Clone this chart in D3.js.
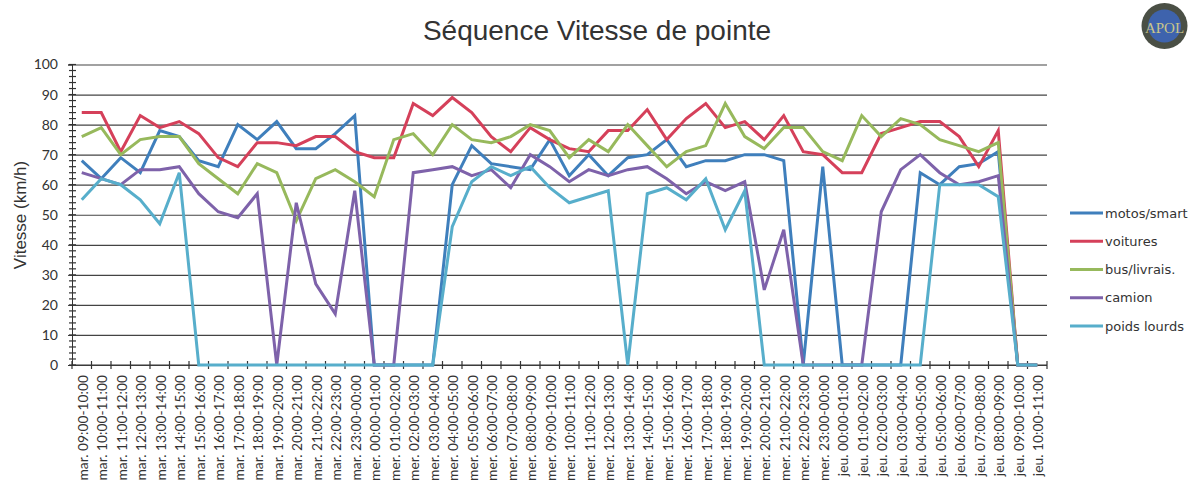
<!DOCTYPE html>
<html>
<head>
<meta charset="utf-8">
<script src="https://cdn.jsdelivr.net/npm/d3@7"></script>
<style>
  html, body { margin: 0; padding: 0; background: #fff; }
  svg { display: block; }
</style>
</head>
<body>
<svg id="chart" width="1188" height="481"></svg>
<script>
const chartTitle = "Séquence Vitesse de pointe";
const yTitle = "Vitesse (km/h)";

const hourSlots = [
  "mar. 09:00-10:00","mar. 10:00-11:00","mar. 11:00-12:00","mar. 12:00-13:00","mar. 13:00-14:00",
  "mar. 14:00-15:00","mar. 15:00-16:00","mar. 16:00-17:00","mar. 17:00-18:00","mar. 18:00-19:00",
  "mar. 19:00-20:00","mar. 20:00-21:00","mar. 21:00-22:00","mar. 22:00-23:00","mar. 23:00-00:00",
  "mer. 00:00-01:00","mer. 01:00-02:00","mer. 02:00-03:00","mer. 03:00-04:00","mer. 04:00-05:00",
  "mer. 05:00-06:00","mer. 06:00-07:00","mer. 07:00-08:00","mer. 08:00-09:00","mer. 09:00-10:00",
  "mer. 10:00-11:00","mer. 11:00-12:00","mer. 12:00-13:00","mer. 13:00-14:00","mer. 14:00-15:00",
  "mer. 15:00-16:00","mer. 16:00-17:00","mer. 17:00-18:00","mer. 18:00-19:00","mer. 19:00-20:00",
  "mer. 20:00-21:00","mer. 21:00-22:00","mer. 22:00-23:00","mer. 23:00-00:00","jeu. 00:00-01:00",
  "jeu. 01:00-02:00","jeu. 02:00-03:00","jeu. 03:00-04:00","jeu. 04:00-05:00","jeu. 05:00-06:00",
  "jeu. 06:00-07:00","jeu. 07:00-08:00","jeu. 08:00-09:00","jeu. 09:00-10:00","jeu. 10:00-11:00"
];

const motos = [68,62,69,64,78,76,68,66,80,75,81,72,72,77,83,0,0,0,0,60,73,67,66,65,75,63,70,63,69,70,75,66,68,68,70,70,68,0,66,0,0,0,0,64,60,66,67,71,0,0];
const voitures = [84,84,71,83,79,81,77,69,66,74,74,73,76,76,71,69,69,87,83,89,84,76,71,79,75,72,71,78,78,85,75,82,87,79,81,75,83,71,70,64,64,77,79,81,81,76,66,78,0,0];
const bus = [76,79,70,75,76,76,67,62,57,67,64,48,62,65,61,56,75,77,70,80,75,74,76,80,78,69,75,71,80,73,66,71,73,87,76,72,79,79,71,68,83,76,82,80,75,73,71,74,0,0];
const camion = [64,62,60,65,65,66,57,51,49,57,0,54,27,17,58,0,0,64,65,66,63,65,59,70,66,61,65,63,65,66,62,57,61,58,61,25,45,0,0,0,0,51,65,70,64,60,61,63,0,0];
const poidsLourds = [55,62,60,55,47,64,0,0,0,0,0,0,0,0,0,0,0,0,0,46,61,66,63,66,59,54,56,58,0,57,59,55,62,45,58,0,0,0,0,0,0,0,0,0,60,60,60,56,0,0];

const seriesNames = ["motos/smart","voitures","bus/livrais.","camion","poids lourds"];
const seriesColors = ["#3f7fbc","#d5405a","#97b95c","#7e62aa","#57aecb"];
const seriesValues = [motos, voitures, bus, camion, poidsLourds];

const svg = d3.select("svg#chart");
const margin = {left: 72, right: 1047, top: 64.5, bottom: 365};

const x = d3.scaleBand().domain(hourSlots).range([margin.left, margin.right]);
const y = d3.scaleLinear().domain([0, 100]).range([margin.bottom, margin.top]);

// gridlines
svg.append("g")
   .attr("transform", "translate(" + margin.left + ",0)")
   .call(d3.axisLeft(y).ticks(10).tickSize(-(margin.right - margin.left)).tickFormat(""))
   .call(g => g.select(".domain").remove())
   .call(g => g.selectAll("line").attr("stroke", "#444").attr("stroke-width", 1.2));

// y minor ticks
svg.append("g")
   .attr("transform", "translate(" + margin.left + ",0)")
   .selectAll("line").data(d3.range(0, 101, 2))
   .join("line")
   .attr("x1", -3).attr("x2", 4)
   .attr("y1", d => y(d)).attr("y2", d => y(d))
   .attr("stroke", "#333").attr("stroke-width", 1.2);

// y axis
svg.append("g")
   .attr("transform", "translate(" + margin.left + ",0)")
   .call(d3.axisLeft(y).ticks(10).tickSize(4).tickPadding(10))
   .call(g => g.select(".domain").attr("stroke", "#333"))
   .call(g => g.selectAll("line").attr("stroke", "#333"))
   .call(g => g.selectAll("text").attr("font-family", "Lato").attr("font-size", 14).attr("fill", "#333"));

// x axis
const bottomAxis = d3.axisBottom(x).tickSize(0).tickPadding(8);
const xAxis = svg.append("g")
   .attr("transform", "translate(0," + margin.bottom + ")")
   .call(bottomAxis);
xAxis.select(".domain").remove();
xAxis.selectAll("text")
   .attr("font-family", "Lato").attr("font-size", 13.8).attr("fill", "#333")
   .attr("text-anchor", "end")
   .attr("dy", "0.35em").attr("dx", 0)
   .attr("y", 0).attr("x", 0)
   .attr("transform", "translate(1,10) rotate(-90)");

svg.append("line")
   .attr("x1", margin.left).attr("x2", margin.right)
   .attr("y1", margin.bottom).attr("y2", margin.bottom)
   .attr("stroke", "#333");
svg.append("g").selectAll("line").data(d3.range(hourSlots.length + 1))
   .join("line")
   .attr("x1", i => margin.left + i * x.step()).attr("x2", i => margin.left + i * x.step())
   .attr("y1", margin.bottom - 4).attr("y2", margin.bottom + 4)
   .attr("stroke", "#333").attr("stroke-width", 1.2);

// series
const line = d3.line()
   .x((d, i) => x(hourSlots[i]) + x.bandwidth() / 2)
   .y(d => y(d));

svg.append("g").selectAll("path").data(seriesValues)
   .join("path")
   .attr("d", line)
   .attr("fill", "none")
   .attr("stroke", (d, i) => seriesColors[i])
   .attr("stroke-width", 3)
   .attr("stroke-linejoin", "miter");

// titles
svg.append("text")
   .attr("x", 597).attr("y", 40)
   .attr("text-anchor", "middle")
   .attr("font-family", "Liberation Sans").attr("font-size", 28).attr("fill", "#333")
   .text(chartTitle);

svg.append("text")
   .attr("transform", "translate(26,215) rotate(-90)")
   .attr("text-anchor", "middle")
   .attr("font-family", "Liberation Sans").attr("font-size", 17).attr("fill", "#333")
   .text(yTitle);

// legend
const legendY = d3.scalePoint().domain(seriesNames).range([213, 326]);
const legend = svg.append("g").selectAll("g").data(seriesNames)
   .join("g")
   .attr("transform", d => "translate(1070," + legendY(d) + ")");
legend.append("line")
   .attr("x1", 0).attr("x2", 33)
   .attr("stroke", (d, i) => seriesColors[i])
   .attr("stroke-width", 3);
legend.append("text")
   .attr("x", 35).attr("dy", "0.35em")
   .attr("font-family", "DejaVu Sans").attr("font-size", 13).attr("fill", "#333")
   .text(d => d);

// logo
const logo = svg.append("g").attr("transform", "translate(1164.5,26)");
logo.append("circle").attr("r", 23).attr("fill", "#4a4f45");
logo.append("circle").attr("r", 16.5).attr("fill", "#3e63ad");
logo.append("text")
   .attr("text-anchor", "middle").attr("y", 7)
   .attr("font-family", "Liberation Serif").attr("font-size", 15).attr("fill", "#c9c58a")
   .text("APOL");
</script>
</body>
</html>
